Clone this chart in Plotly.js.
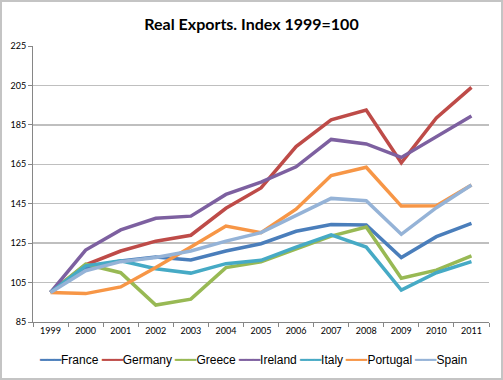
<!DOCTYPE html>
<html><head><meta charset="utf-8">
<script src="https://cdn.plot.ly/plotly-3.0.1.min.js"></script>
<style>html,body{margin:0;padding:0;background:#fff}#wrap{position:relative;width:503px;height:380px}#chart{width:503px;height:380px}#frame{position:absolute;left:0;top:0;width:499px;height:376px;border:2px solid #c4c4c4;pointer-events:none}</style>
</head><body><div id="wrap"><div id="chart"></div><div id="frame"></div></div>
<script>
const years = ["1999","2000","2001","2002","2003","2004","2005","2006","2007","2008","2009","2010","2011"];
const france   = [100,112.5,116,118,116.5,121,124.7,131,134.5,134.2,117.7,128.3,135];
const germany  = [100,114,121,126,129,142.7,153,174,187.5,192.5,165.8,188.5,204];
const greece   = [100,114.3,110,93.6,96.6,112.6,115.5,121.9,128.6,133.2,107.2,111.3,118.5];
const ireland  = [100,121.5,131.7,137.6,138.7,149.7,156,163.7,177.6,175.3,168.5,179,189.5];
const italy    = [100,113.5,116,112,109.8,114.6,116.3,123,129.2,123,101.2,110,115.6];
const portugal = [100,99.4,102.8,112.6,123,133.7,130.3,142.2,159.3,163.5,143.8,144,154.5];
const spain    = [100,111,115.6,117.7,121,126,130.3,138.8,147.7,146.5,129.5,143,154.5];

const names = ["France","Germany","Greece","Ireland","Italy","Portugal","Spain"];
const series = [france, germany, greece, ireland, italy, portugal, spain];
const colors = ["#4A7EBB","#BE4B48","#98B954","#7D60A0","#46AAC5","#F79646","#95B3D7"];

const data = names.map((n,i)=>({
  x: years, y: series[i], name: n, type: "scatter", mode: "lines",
  line: {color: colors[i], width: 3.5, shape: "linear"}
}));

const legendText = names.map((n,i)=>`<span style="color:${colors[i]}">━━━</span>${n}`).join(" ");

const layout = {
  width: 503, height: 380,
  margin: {l: 33, r: 14, t: 46, b: 58},
  paper_bgcolor: "#fff", plot_bgcolor: "#fff",
  title: {text: "<b>Real Exports. Index 1999=100</b>", font: {family: "Lato, 'Open Sans', sans-serif", size: 16, color: "#000"},
          x: 0.5, xref: "container", xanchor: "center", y: 0.935, yref: "container", yanchor: "middle"},
  xaxis: {type: "category", range: [-0.5, 12.5], tickson: "boundaries", ticks: "outside", ticklen: 4,
          tickcolor: "#868686", showline: true, linecolor: "#868686", linewidth: 1, showgrid: false,
          tickfont: {family: "Lato, sans-serif", size: 9, color: "#000"}, fixedrange: true},
  yaxis: {range: [85, 225], dtick: 20, tick0: 85, ticks: "outside", ticklen: 4, tickcolor: "#868686",
          showline: true, linecolor: "#868686", linewidth: 1, showgrid: true, gridcolor: "#bfbfbf", gridwidth: 1.5,
          zeroline: false, tickfont: {family: "Lato, sans-serif", size: 9, color: "#000"}, fixedrange: true},
  showlegend: false,
  annotations: [{text: legendText, xref: "paper", yref: "paper", x: (253-33)/456, y: (322-360)/276,
                 xanchor: "center", yanchor: "middle", showarrow: false,
                 font: {family: "Liberation Sans, Arial, sans-serif", size: 12, color: "#000"}}]
};
Plotly.newPlot("chart", data, layout, {displayModeBar: false, staticPlot: true});
</script></body></html>
